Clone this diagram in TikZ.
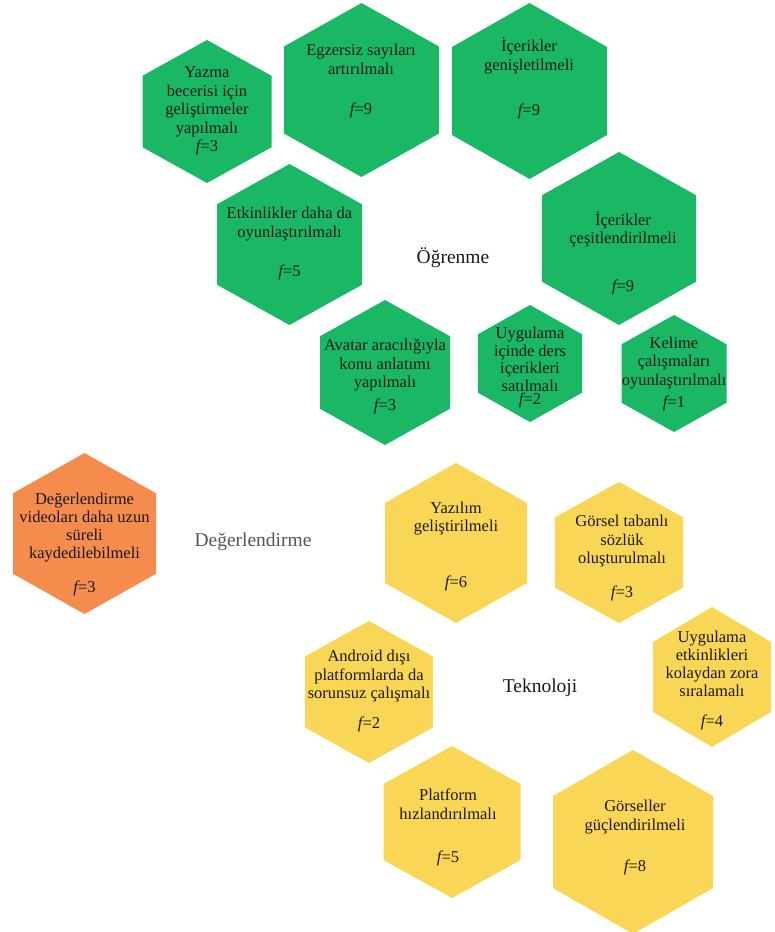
\documentclass[tikz,border=0pt]{standalone}
\usepackage{fontspec}
\setmainfont{Liberation Serif}
\definecolor{hgreen}{RGB}{26,184,100}
\definecolor{hyellow}{RGB}{250,214,86}
\definecolor{horange}{RGB}{245,139,76}
\definecolor{htext}{RGB}{25,25,25}
\definecolor{hgray}{RGB}{85,85,85}
% #1 colour, #2 cx, #3 cy, #4 half width, #5 half height
\newcommand\hexshape[5]{\fill[#1,shift={(#2,#3)}] (0,-#5) -- (#4,-#5/2) -- (#4,#5/2) -- (0,#5) -- (-#4,#5/2) -- (-#4,-#5/2) -- cycle;}
\newcommand\fv[1]{{\itshape f}=#1}
\begin{document}
\begin{tikzpicture}[x=1pt,y=-1pt,
  txt/.style={align=center,text=htext,font=\fontsize{16.5}{18.5}\selectfont,inner sep=0pt},
  lbl/.style={font=\fontsize{19.5}{22}\selectfont,inner sep=0pt}]
\useasboundingbox (0,0) rectangle (775,932);
% ---------- Öğrenme (green)
\hexshape{hgreen}{207}{111.5}{64.5}{71.5}
\hexshape{hgreen}{361.5}{90}{77.5}{87}
\hexshape{hgreen}{529.5}{91}{77.5}{88}
\hexshape{hgreen}{289.5}{244.5}{72.5}{80.5}
\hexshape{hgreen}{619}{238.5}{77}{86.5}
\hexshape{hgreen}{385}{372.5}{65}{72.5}
\hexshape{hgreen}{530}{363.5}{52}{58.5}
\hexshape{hgreen}{674}{373.5}{52.5}{58.5}
\node[txt] (yazma) at (207,111) {Yazma\\becerisi için\\geliştirmeler\\yapılmalı\\\fv{3}};
\node[txt] (egz) at (361,81) {Egzersiz sayıları\\artırılmalı\\[21.5pt]\fv{9}};
\node[txt] (icgen) at (529,78.5) {İçerikler\\genişletilmeli\\[26.5pt]\fv{9}};
\node[txt] (etk) at (289.5,243.5) {Etkinlikler daha da\\oyunlaştırılmalı\\[20.5pt]\fv{5}};
\node[txt] (iccest) at (623,253.5) {İçerikler\\çeşitlendirilmeli\\[29.5pt]\fv{9}};
\node[txt] (avatar) at (385,377) {Avatar aracılığıyla\\konu anlatımı\\yapılmalı\\[4.5pt]\fv{3}};
\node[txt,font=\fontsize{16.5}{17.7}\selectfont] (uygic) at (530,367.5) {Uygulama\\içinde ders\\içerikleri\\satılmalı\\[-5pt]\fv{2}};
\node[txt] (kelime) at (674,374) {Kelime\\çalışmaları\\oyunlaştırılmalı\\[3.5pt]\fv{1}};
\node[lbl,text=htext] (ogrenme) at (453,258) {Öğrenme};
% ---------- Değerlendirme (orange)
\hexshape{horange}{84.5}{533.5}{71.5}{80.5}
\node[txt,font=\fontsize{16.5}{17.7}\selectfont] (degv) at (84.5,544.5) {Değerlendirme\\videoları daha uzun\\süreli\\kaydedilebilmeli\\[16.3pt]\fv{3}};
\node[lbl,text=hgray] (deg) at (253,542) {Değerlendirme};
% ---------- Teknoloji (yellow)
\hexshape{hyellow}{456}{543}{71}{80}
\hexshape{hyellow}{619}{552.5}{64}{70.5}
\hexshape{hyellow}{369}{692}{64}{71}
\hexshape{hyellow}{712}{677}{59}{70}
\hexshape{hyellow}{452}{822}{68.5}{76}
\hexshape{hyellow}{633}{842}{80}{92}
\node[txt] (yazilim) at (456,546.5) {Yazılım\\geliştirilmeli\\[37.5pt]\fv{6}};
\node[txt] (gorsel) at (622,558) {Görsel tabanlı\\sözlük\\oluşturulmalı\\[15pt]\fv{3}};
\node[txt] (android) at (369,691.5) {Android dışı\\platformlarda da\\sorunsuz çalışmalı\\[11.5pt]\fv{2}};
\node[txt,font=\fontsize{16.5}{18}\selectfont] (uygetk) at (712,681) {Uygulama\\etkinlikleri\\kolaydan zora\\sıralamalı\\[12pt]\fv{4}};
\node[txt] (platform) at (448,827.5) {Platform\\hızlandırılmalı\\[24.5pt]\fv{5}};
\node[txt] (gorseller) at (635,837.5) {Görseller\\güçlendirilmeli\\[22.5pt]\fv{8}};
\node[lbl,text=htext] (tek) at (540,688) {Teknoloji};
\end{tikzpicture}
\end{document}
